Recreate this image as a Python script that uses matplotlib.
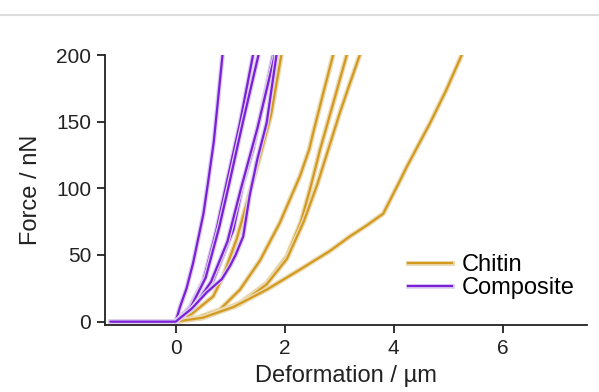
import matplotlib
matplotlib.use("Agg")
import matplotlib.pyplot as plt
import matplotlib.patheffects as pe
from matplotlib.lines import Line2D

plt.rcParams['font.family'] = ['Liberation Sans', 'DejaVu Sans']

# Composite curves (deformation µm, force nN)
comp_x = [
    [-1.2, 0, 0.08, 0.2, 0.32, 0.51, 0.6, 0.7, 0.86],
    [-1.2, 0, 0.26, 0.51, 0.75, 0.93, 1.18, 1.42],
    [-1.2, 0, 0.28, 0.55, 0.8, 0.98, 1.23, 1.52],
    [-1.2, 0, 0.3, 0.69, 1.06, 1.24, 1.42, 1.79],
    [-1.2, 0, 0.32, 0.65, 0.95, 1.2, 1.5, 1.82],
    [-1.2, 0, 0.3, 0.57, 0.85, 1.0, 1.1, 1.24, 1.36, 1.5, 1.67, 1.85],
]
comp_y = [
    [0, 0, 11, 25, 44, 81, 106, 135, 200],
    [0, 0, 11, 31, 69, 103, 149, 200],
    [0, 0, 11, 33, 71, 103, 149, 200],
    [0, 0, 10, 31, 69, 104, 129, 200],
    [0, 0, 10, 30, 60, 100, 145, 200],
    [0, 0, 10, 22, 32, 42, 50, 64, 95, 122, 149, 200],
]

# Chitin curves
chit_x = [
    [-1.2, 0, 0.3, 0.69, 0.87, 1.12, 1.3, 1.58, 1.75, 1.94],
    [-1.2, 0, 0.4, 0.81, 1.18, 1.55, 1.91, 2.28, 2.45, 2.52, 2.7, 2.89],
    [-1.2, 0, 0.5, 1.18, 1.67, 2.04, 2.3, 2.47, 2.65, 2.9, 3.14],
    [-1.2, 0, 0.5, 1.18, 1.67, 2.04, 2.35, 2.6, 2.8, 3.0, 3.2, 3.38],
    [-1.2, 0, 0.5, 1.06, 1.67, 2.28, 2.83, 3.2, 3.5, 3.81, 4.12, 4.24, 4.67, 4.97, 5.25],
]
chit_y = [
    [0, 0, 6, 19, 34, 62, 88, 129, 155, 200],
    [0, 0, 3, 9, 24, 46, 74, 109, 129, 141, 170, 200],
    [0, 0, 3, 14, 29, 49, 75, 100, 129, 165, 200],
    [0, 0, 3, 13, 28, 47, 75, 103, 129, 155, 179, 200],
    [0, 0, 3, 11, 24, 39, 53, 64, 72, 81, 106, 116, 149, 174, 200],
]

x_ticks = [0, 2, 4, 6]
y_ticks = [0, 50, 100, 150, 200]

orange = '#D39A1F'
purple = '#7B1FD8'
halo_o = [pe.Stroke(linewidth=3.6, foreground='#EADBB5'), pe.Normal()]
halo_p = [pe.Stroke(linewidth=3.4, foreground='#DCD0EE'), pe.Normal()]

fig = plt.figure(figsize=(5.99, 3.92), dpi=100)
ax = fig.add_axes([105 / 599, 1 - 325 / 392, 482 / 599, 270 / 392])

for xs, ys in zip(chit_x, chit_y):
    ax.plot(xs, ys, color=orange, lw=1.6, path_effects=halo_o, solid_capstyle='round')
for xs, ys in zip(comp_x, comp_y):
    ax.plot(xs, ys, color=purple, lw=1.6, path_effects=halo_p, solid_capstyle='round')

ax.set_xlim(-1.297, 7.55)
ax.set_ylim(-2.5, 200)
ax.set_xticks(x_ticks)
ax.set_yticks(y_ticks)
ax.spines['top'].set_visible(False)
ax.spines['right'].set_visible(False)
for s in ('left', 'bottom'):
    ax.spines[s].set_linewidth(1.3)
    ax.spines[s].set_color('#222222')
ax.tick_params(direction='out', length=6, width=1.3, labelsize=15, colors='#222222', pad=4)
ax.set_xlabel('Deformation / µm', fontsize=17, color='#222222', labelpad=5)
ax.set_ylabel('Force / nN', fontsize=17, color='#222222', labelpad=10)

handles = [Line2D([], [], color=orange, lw=1.6, path_effects=halo_o),
           Line2D([], [], color=purple, lw=1.6, path_effects=halo_p)]
ax.legend(handles, ['Chitin', 'Composite'], loc='center left', frameon=False,
          fontsize=17, bbox_to_anchor=(408 / 599, 1 - 276.5 / 392),
          bbox_transform=fig.transFigure, borderaxespad=0, borderpad=0,
          handlelength=1.85, handletextpad=0.42, labelspacing=0.05)

fig.add_artist(Line2D([0, 1], [1 - 14.5 / 392, 1 - 14.5 / 392],
                      transform=fig.transFigure, color='#DDDDDD', lw=1.5))

fig.savefig('out.png', dpi=100)
